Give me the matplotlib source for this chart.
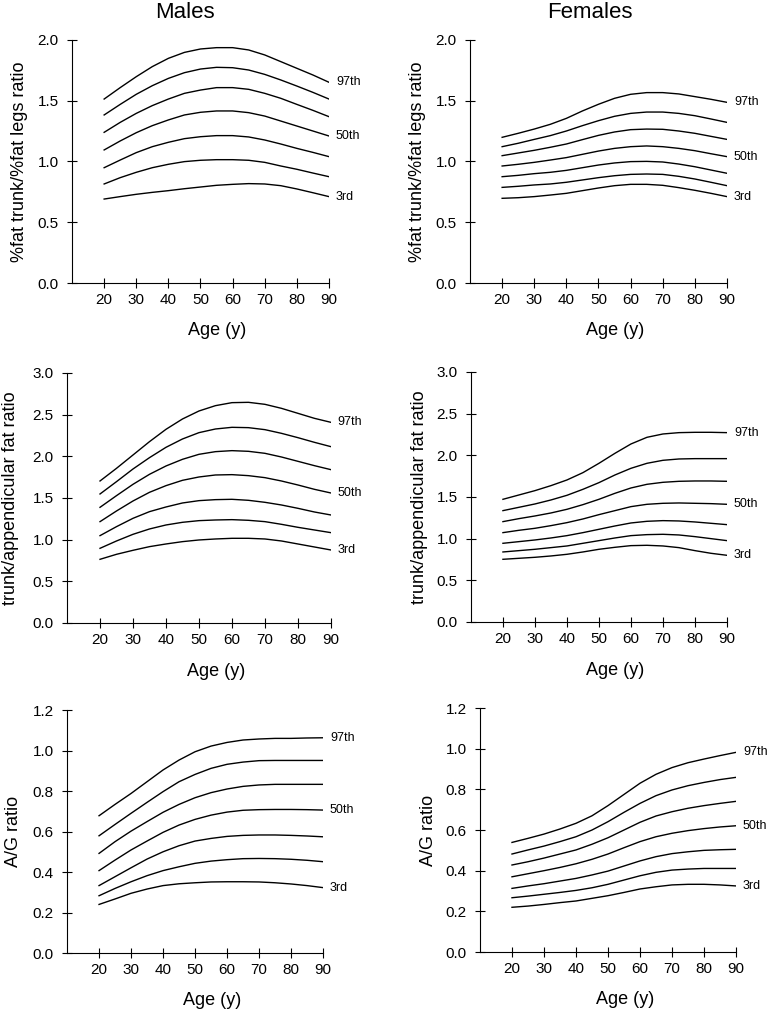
import matplotlib
matplotlib.use('Agg')
import matplotlib.pyplot as plt

plt.rcParams['font.family'] = ['Liberation Sans', 'DejaVu Sans']

ages = [20, 25, 30, 35, 40, 45, 50, 55, 60, 65, 70, 75, 80, 85, 90]
centile_labels = ['97th', '90th', '75th', '50th', '25th', '10th', '3rd']
shown_labels = ['97th', '50th', '3rd']

# Rows are centiles, top to bottom: 97th, 90th, 75th, 50th, 25th, 10th, 3rd
males_trunk_legs = [
    [1.514, 1.608, 1.698, 1.781, 1.849, 1.898, 1.926, 1.937, 1.937, 1.918, 1.877, 1.822, 1.767, 1.712, 1.652],
    [1.383, 1.470, 1.553, 1.624, 1.684, 1.731, 1.761, 1.775, 1.772, 1.753, 1.717, 1.671, 1.621, 1.569, 1.514],
    [1.240, 1.322, 1.396, 1.460, 1.514, 1.561, 1.588, 1.608, 1.608, 1.594, 1.561, 1.520, 1.470, 1.421, 1.369],
    [1.095, 1.169, 1.237, 1.295, 1.342, 1.383, 1.405, 1.416, 1.416, 1.402, 1.374, 1.333, 1.292, 1.251, 1.210],
    [0.949, 1.012, 1.073, 1.122, 1.158, 1.188, 1.204, 1.213, 1.213, 1.202, 1.177, 1.144, 1.108, 1.075, 1.040],
    [0.815, 0.867, 0.911, 0.949, 0.977, 0.999, 1.010, 1.015, 1.015, 1.010, 0.993, 0.963, 0.936, 0.905, 0.875],
    [0.691, 0.711, 0.730, 0.746, 0.760, 0.776, 0.790, 0.804, 0.812, 0.818, 0.815, 0.801, 0.774, 0.743, 0.711],
]
females_trunk_legs = [
    [1.199, 1.232, 1.267, 1.306, 1.355, 1.416, 1.471, 1.520, 1.553, 1.567, 1.567, 1.556, 1.534, 1.512, 1.487],
    [1.122, 1.150, 1.182, 1.213, 1.251, 1.295, 1.336, 1.372, 1.396, 1.407, 1.407, 1.396, 1.377, 1.350, 1.322],
    [1.048, 1.070, 1.092, 1.117, 1.144, 1.180, 1.215, 1.243, 1.262, 1.267, 1.265, 1.251, 1.232, 1.207, 1.182],
    [0.963, 0.977, 0.993, 1.012, 1.032, 1.059, 1.086, 1.108, 1.122, 1.128, 1.122, 1.108, 1.089, 1.064, 1.040],
    [0.875, 0.886, 0.900, 0.911, 0.927, 0.949, 0.971, 0.988, 0.999, 1.001, 0.996, 0.979, 0.957, 0.930, 0.903],
    [0.787, 0.796, 0.807, 0.815, 0.829, 0.848, 0.867, 0.883, 0.894, 0.897, 0.894, 0.878, 0.856, 0.829, 0.801],
    [0.697, 0.702, 0.711, 0.724, 0.738, 0.760, 0.782, 0.801, 0.812, 0.812, 0.804, 0.785, 0.763, 0.738, 0.711],
]
males_trunk_app = [
    [1.704, 1.856, 2.016, 2.176, 2.324, 2.448, 2.544, 2.608, 2.644, 2.648, 2.624, 2.576, 2.516, 2.456, 2.408],
    [1.548, 1.696, 1.848, 1.984, 2.108, 2.208, 2.284, 2.328, 2.348, 2.344, 2.320, 2.276, 2.224, 2.168, 2.116],
    [1.388, 1.528, 1.664, 1.784, 1.884, 1.964, 2.024, 2.056, 2.068, 2.060, 2.036, 1.992, 1.940, 1.888, 1.840],
    [1.216, 1.344, 1.464, 1.568, 1.648, 1.712, 1.752, 1.776, 1.780, 1.768, 1.744, 1.704, 1.656, 1.604, 1.560],
    [1.048, 1.156, 1.256, 1.336, 1.392, 1.440, 1.468, 1.480, 1.484, 1.472, 1.448, 1.416, 1.376, 1.332, 1.296],
    [0.896, 0.984, 1.064, 1.128, 1.176, 1.208, 1.228, 1.236, 1.240, 1.232, 1.216, 1.184, 1.148, 1.116, 1.084],
    [0.764, 0.824, 0.872, 0.916, 0.948, 0.976, 0.996, 1.008, 1.016, 1.016, 1.008, 0.984, 0.948, 0.912, 0.876],
]
females_trunk_app = [
    [1.472, 1.524, 1.576, 1.636, 1.704, 1.792, 1.904, 2.024, 2.136, 2.216, 2.256, 2.272, 2.276, 2.276, 2.272],
    [1.336, 1.376, 1.416, 1.464, 1.520, 1.592, 1.672, 1.764, 1.844, 1.904, 1.940, 1.956, 1.960, 1.960, 1.960],
    [1.204, 1.240, 1.272, 1.308, 1.352, 1.408, 1.472, 1.544, 1.608, 1.652, 1.676, 1.688, 1.692, 1.692, 1.688],
    [1.072, 1.100, 1.124, 1.156, 1.192, 1.236, 1.288, 1.336, 1.384, 1.412, 1.424, 1.428, 1.424, 1.420, 1.412],
    [0.944, 0.964, 0.984, 1.008, 1.036, 1.072, 1.112, 1.152, 1.188, 1.208, 1.216, 1.212, 1.200, 1.184, 1.168],
    [0.840, 0.856, 0.872, 0.892, 0.912, 0.944, 0.976, 1.008, 1.036, 1.048, 1.052, 1.044, 1.024, 1.000, 0.976],
    [0.752, 0.764, 0.776, 0.792, 0.812, 0.840, 0.872, 0.896, 0.916, 0.920, 0.912, 0.892, 0.856, 0.824, 0.800],
]
males_ag = [
    [0.678, 0.734, 0.788, 0.846, 0.904, 0.953, 0.994, 1.022, 1.040, 1.052, 1.057, 1.060, 1.060, 1.062, 1.063],
    [0.579, 0.635, 0.690, 0.744, 0.797, 0.846, 0.882, 0.912, 0.932, 0.943, 0.950, 0.951, 0.951, 0.951, 0.951],
    [0.492, 0.550, 0.602, 0.649, 0.695, 0.734, 0.767, 0.792, 0.810, 0.823, 0.830, 0.833, 0.833, 0.833, 0.833],
    [0.407, 0.459, 0.509, 0.553, 0.596, 0.632, 0.660, 0.681, 0.696, 0.705, 0.708, 0.709, 0.709, 0.708, 0.706],
    [0.333, 0.377, 0.421, 0.464, 0.500, 0.530, 0.553, 0.566, 0.576, 0.581, 0.583, 0.583, 0.581, 0.578, 0.574],
    [0.283, 0.319, 0.352, 0.382, 0.407, 0.426, 0.443, 0.454, 0.461, 0.466, 0.467, 0.466, 0.463, 0.458, 0.451],
    [0.240, 0.267, 0.295, 0.316, 0.333, 0.342, 0.347, 0.351, 0.352, 0.352, 0.351, 0.347, 0.341, 0.333, 0.323],
]
females_ag = [
    [0.539, 0.559, 0.580, 0.605, 0.633, 0.670, 0.720, 0.775, 0.830, 0.874, 0.907, 0.931, 0.949, 0.966, 0.982],
    [0.482, 0.502, 0.521, 0.543, 0.567, 0.600, 0.641, 0.687, 0.731, 0.769, 0.797, 0.818, 0.834, 0.848, 0.859],
    [0.428, 0.444, 0.462, 0.482, 0.502, 0.530, 0.562, 0.600, 0.638, 0.669, 0.690, 0.707, 0.720, 0.731, 0.741],
    [0.370, 0.385, 0.400, 0.416, 0.434, 0.456, 0.482, 0.513, 0.543, 0.567, 0.584, 0.597, 0.607, 0.615, 0.621],
    [0.313, 0.325, 0.336, 0.349, 0.362, 0.379, 0.398, 0.423, 0.448, 0.469, 0.484, 0.493, 0.500, 0.503, 0.505],
    [0.267, 0.275, 0.284, 0.293, 0.303, 0.316, 0.333, 0.354, 0.375, 0.392, 0.403, 0.408, 0.411, 0.411, 0.411],
    [0.220, 0.226, 0.234, 0.243, 0.251, 0.264, 0.277, 0.293, 0.310, 0.321, 0.330, 0.333, 0.333, 0.330, 0.325],
]

fig = plt.figure(figsize=(7.67, 10.10), dpi=100)


# Draws one centile panel; rect is in figure fraction
def draw_panel(rect, curves, ylabel, ymax, ystep, label_x):
    ax = fig.add_axes(rect)
    for name, vals in zip(centile_labels, curves):
        ax.plot(ages, vals, color='black', lw=1.0)
        if name in shown_labels:
            ax.annotate(name, (ages[-1], vals[-1]), xytext=(5, 0),
                        textcoords='offset points', va='center', ha='left',
                        fontsize=9, annotation_clip=False)
    ax.set_xlim(10, 90)
    ax.set_ylim(0, ymax)
    ax.set_xticks(range(20, 91, 10))
    n = int(round(ymax / ystep))
    ax.set_yticks([i * ystep for i in range(n + 1)])
    ax.yaxis.set_major_formatter(matplotlib.ticker.FormatStrFormatter('%.1f'))
    ax.spines['top'].set_visible(False)
    ax.spines['right'].set_visible(False)
    ax.spines['left'].set_linewidth(0.8)
    ax.spines['bottom'].set_linewidth(0.8)
    ax.tick_params(axis='x', direction='inout', length=7, width=0.8, pad=4, labelsize=11)
    ax.tick_params(axis='y', direction='inout', length=7, width=0.8, pad=6, labelsize=11)
    ax.set_xlabel('Age (y)', fontsize=13)
    ax.xaxis.set_label_coords(0.565, -0.16)
    ax.xaxis.label.set_va('top')
    ax.set_ylabel(ylabel, fontsize=13)
    ax.yaxis.set_label_coords(label_x, 0.5)
    return ax


draw_panel([0.0939, 0.7198, 0.335, 0.2406], males_trunk_legs,
           '%fat trunk/%fat legs ratio', 2.0, 0.5, -0.171)
draw_panel([0.6128, 0.7198, 0.335, 0.2406], females_trunk_legs,
           '%fat trunk/%fat legs ratio', 2.0, 0.5, -0.171)
draw_panel([0.0874, 0.3832, 0.344, 0.2475], males_trunk_app,
           'trunk/appendicular fat ratio', 3.0, 0.5, -0.182)
draw_panel([0.614, 0.3842, 0.3338, 0.2475], females_trunk_app,
           'trunk/appendicular fat ratio', 3.0, 0.5, -0.168)
draw_panel([0.0874, 0.0564, 0.3338, 0.2406], males_ag,
           'A/G ratio', 1.2, 0.2, -0.174)
draw_panel([0.6258, 0.0574, 0.3338, 0.2416], females_ag,
           'A/G ratio', 1.2, 0.2, -0.168)

fig.text(185 / 767, 1 - 13 / 1010, 'Males', fontsize=16, ha='center', va='center')
fig.text(590 / 767, 1 - 13 / 1010, 'Females', fontsize=16, ha='center', va='center')

plt.savefig('out.png', dpi=100)
